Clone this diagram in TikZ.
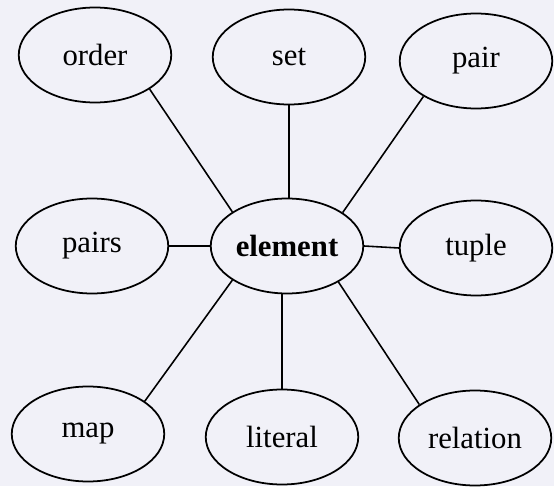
\documentclass[tikz,border=0pt]{standalone}
\usepackage{fontspec}
\setmainfont{Liberation Serif}
\usetikzlibrary{shapes.geometric}
\definecolor{paper}{RGB}{241,241,248}

\begin{document}
\begin{tikzpicture}[
    every node/.style={font=\fontsize{17.5}{20}\selectfont},
    term/.style={ellipse, draw, line width=1pt, minimum width=3.05cm, minimum height=1.9cm, inner sep=0pt},
    link/.style={line width=0.9pt}
]

% page
\fill[paper] (0, 0) rectangle (11.08, 9.72);
\useasboundingbox (0, 0) rectangle (11.08, 9.72);

% ============ CENTRE ============
\node[term, font=\fontsize{17.5}{20}\selectfont\bfseries] (element) at (5.74, 4.8) {element};

% ============ TOP ROW ============
\node[term] (order) at (1.9, 8.62) {order};
\node[term] (set) at (5.78, 8.58) {set};
\node[term] (pair) at (9.52, 8.5) {pair};

% ============ MIDDLE ROW ============
\node[term] (pairs) at (1.84, 4.8) {pairs};
\node[term] (tuple) at (9.52, 4.76) {tuple};

% ============ BOTTOM ROW ============
\node[term] (map) at (1.76, 1.04) {map};
\node[term] (literal) at (5.64, 0.98) {literal};
\node[term] (relation) at (9.5, 0.96) {relation};

% Links to the centre
\draw[link] (order.-32) -- (element.148);
\draw[link] (set.south) -- (set.south |- element.north);
\draw[link] (pair.214) -- (element.31);
\draw[link] (pairs.east) -- (element.west);
\draw[link] (element.east) -- (tuple.west);
\draw[link] (element.212) -- (map.30);
\draw[link] (literal.north) -- (literal.north |- element.south);
\draw[link] (element.-35) -- (relation.149);

\end{tikzpicture}
\end{document}
